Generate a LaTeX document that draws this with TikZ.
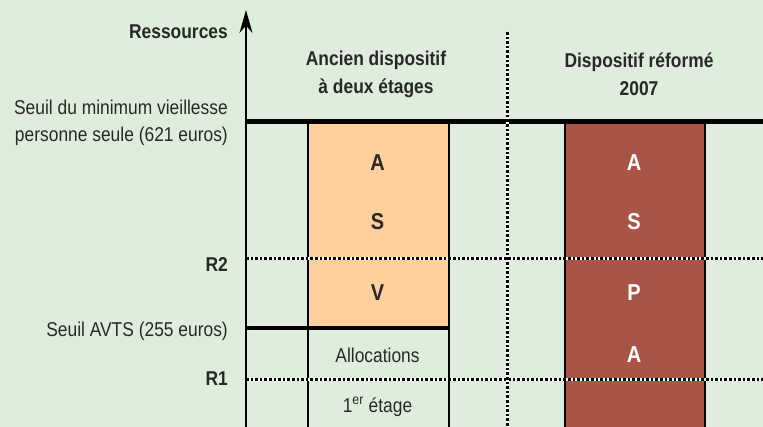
\documentclass[tikz,border=0pt]{standalone}
\usepackage{fontspec}
\setmainfont{Liberation Sans}[FakeStretch=0.87]
\usetikzlibrary{positioning, arrows.meta}
\definecolor{bg_green}{RGB}{223,238,220}
\definecolor{light_orange}{RGB}{253,208,158}
\definecolor{brick_red}{RGB}{168,84,70}
\definecolor{dark_text}{RGB}{40,40,40}

\begin{document}
\begin{tikzpicture}[x=1pt, y=-1pt, >=Stealth,
    every node/.style={font=\fontsize{20}{27}\selectfont, text=dark_text, inner sep=0pt},
    bold_label/.style={font=\fontsize{20}{28}\selectfont\bfseries},
    letter/.style={font=\fontsize{23}{24}\selectfont\bfseries},
    column/.style={draw, line width=2.2pt, rectangle, anchor=north west},
    dot_rule/.style={line width=3pt, white, postaction={draw=black, dash pattern=on 2.6pt off 2pt}}]

    % --- Begin Background ---
			\fill[bg_green] (0,0) rectangle (763,427);
			\useasboundingbox (0,0) rectangle (763,427);
			% --- End Background ---

			% --- Begin Ancien Column ---
			\node [column, fill=light_orange, minimum width=141pt, minimum height=206pt] (AncienBox) at (307,122) {};
			\node [column, minimum width=141pt, minimum height=110pt] (AllocBox) at (307,328) {};
			\node [letter] (ancien_a) at (377.5,163) {A};
			\node [letter] (ancien_s) at (377.5,222) {S};
			\node [letter] (ancien_v) at (377.5,293) {V};
			\node (ancien_alloc) at (377.5,355) {Allocations};
			\node (ancien_etage) at (377.5,407) {1\textsuperscript{er} étage};
			% --- End Ancien Column ---

			% --- Begin Reforme Column ---
			\node [column, line width=1.8pt, fill=brick_red, minimum width=140pt, minimum height=315pt] (ReformeBox) at (564,122) {};
			\node [letter, text=white] (reforme_a) at (634,163) {A};
			\node [letter, text=white] (reforme_s) at (634,222) {S};
			\node [letter, text=white] (reforme_p) at (634,293) {P};
			\node [letter, text=white] (reforme_a2) at (634,355) {A};
			% --- End Reforme Column ---

			% Threshold lines.
			\coordinate (MinLeft) at (246,122);
			\coordinate (MinRight) at (763,122);
			\coordinate (AvtsLeft) at (246,328);
			\draw[line width=5pt] (MinLeft) -- (MinRight);
			\draw[line width=4pt] (AvtsLeft) -- (AllocBox.north east);

			% Dotted lines R2, R1 and the separator.
			\coordinate (R2Left) at (246,259);
			\coordinate (R2Right) at (763,259);
			\coordinate (R1Left) at (246,380);
			\coordinate (R1Right) at (763,380);
			\coordinate (SepTop) at (507,32);
			\coordinate (SepBottom) at (507,427);
			\draw[dot_rule] (R2Left) -- (R2Right);
			\draw[dot_rule] (R1Left) -- (R1Right);
			\draw[dot_rule] (SepTop) -- (SepBottom);

			% Axis.
			\coordinate (AxisBottom) at (246,427);
			\coordinate (AxisTop) at (246,10);
			\draw[-{Stealth[length=23pt, width=13pt]}, line width=1.6pt] (AxisBottom) -- (AxisTop);

			% --- Begin Labels ---
			\node [bold_label, anchor=east] (Ressources) at (228,32) {Ressources};
			\node [bold_label, align=center] (AncienTitle) at (376,74) {Ancien dispositif\\à deux étages};
			\node [bold_label, align=center] (ReformeTitle) at (639,74) {Dispositif réformé\\2007};
			\node [align=right, anchor=east] (SeuilMin) at (228,123) {Seuil du minimum vieillesse\\personne seule (621 euros)};
			\node [bold_label, anchor=east] (R2) at (228,265) {R2};
			\node [anchor=east] (SeuilAvts) at (228,331) {Seuil AVTS (255 euros)};
			\node [bold_label, anchor=east] (R1) at (228,379) {R1};
			% --- End Labels ---

  \end{tikzpicture}
\end{document}
